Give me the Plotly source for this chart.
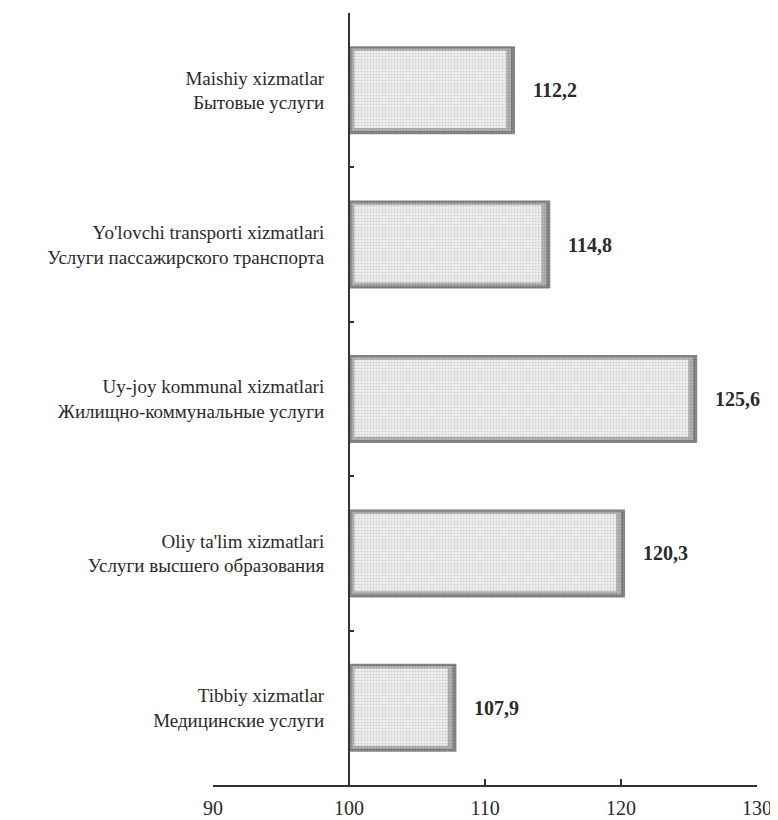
import plotly.graph_objects as go

# Data (bottom to top)
categories = [
    "Tibbiy xizmatlar<br>Медицинские услуги",
    "Oliy ta'lim xizmatlari<br>Услуги высшего образования",
    "Uy-joy kommunal xizmatlari<br>Жилищно-коммунальные услуги",
    "Yo'lovchi transporti xizmatlari<br>Услуги пассажирского транспорта",
    "Maishiy xizmatlar<br>Бытовые услуги",
]
values = [107.9, 120.3, 125.6, 114.8, 112.2]
value_labels = ["107,9", "120,3", "125,6", "114,8", "112,2"]
x_ticks = [90, 100, 110, 120, 130]
base_value = 100

FONT = "Times New Roman, Liberation Serif, serif"

fig = go.Figure()

# Bevel layers: outer (dark), middle, inner face (light stipple)
layers = [
    # (base inset, end inset, width, offset, bg, fg, solidity)
    (0.0, 0.0, 0.57, -0.285, "#8e8e8e", "#5e5e5e", 0.5),
    (0.2, 0.5, 0.535, -0.265, "#b6b6b6", "#8a8a8a", 0.45),
    (0.4, 1.05, 0.50, -0.245, "#eeeeee", "#b4b4b4", 0.35),
]
for b_in, e_in, w, off, bg, fg, sol in layers:
    fig.add_trace(go.Bar(
        y=categories, x=[v - base_value - e_in for v in values], base=base_value + b_in,
        orientation="h", width=w, offset=off,
        marker=dict(color=bg,
                    pattern=dict(shape=".", fgcolor=fg, bgcolor=bg, size=3, solidity=sol),
                    line=dict(width=0)),
        hoverinfo="skip", showlegend=False,
    ))

for c, v, t in zip(categories, values, value_labels):
    fig.add_annotation(x=v, y=c, text="<b>" + t + "</b>", showarrow=False,
                       xanchor="left", yanchor="middle", xshift=16,
                       font=dict(family=FONT, size=20, color="#2a2a2a"))

fig.update_layout(
    width=778, height=820,
    margin=dict(l=205, r=29, t=5, b=43),
    paper_bgcolor="white", plot_bgcolor="white",
    barmode="overlay",
    font=dict(family=FONT, size=19, color="#2a2a2a"),
    xaxis=dict(range=[90, 130], tickvals=x_ticks, ticktext=[str(t) for t in x_ticks],
               showline=True, linecolor="#333", linewidth=1.5,
               ticks="inside", ticklen=6, tickcolor="#333", tickwidth=1.5,
               showgrid=False, zeroline=False, ticklabelstandoff=4,
               tickfont=dict(family=FONT, size=20, color="#2a2a2a")),
    yaxis=dict(type="category", categoryorder="array", categoryarray=categories,
               range=[-0.5, 4.5], anchor="free", position=0.25,
               showline=True, linecolor="#333", linewidth=2,
               ticks="inside", tickson="boundaries", ticklen=4, tickcolor="#333", tickwidth=1.5,
               showgrid=False, zeroline=False, ticklabelstandoff=20,
               tickfont=dict(family=FONT, size=19, color="#2a2a2a")),
)

fig.write_html("out.html")
